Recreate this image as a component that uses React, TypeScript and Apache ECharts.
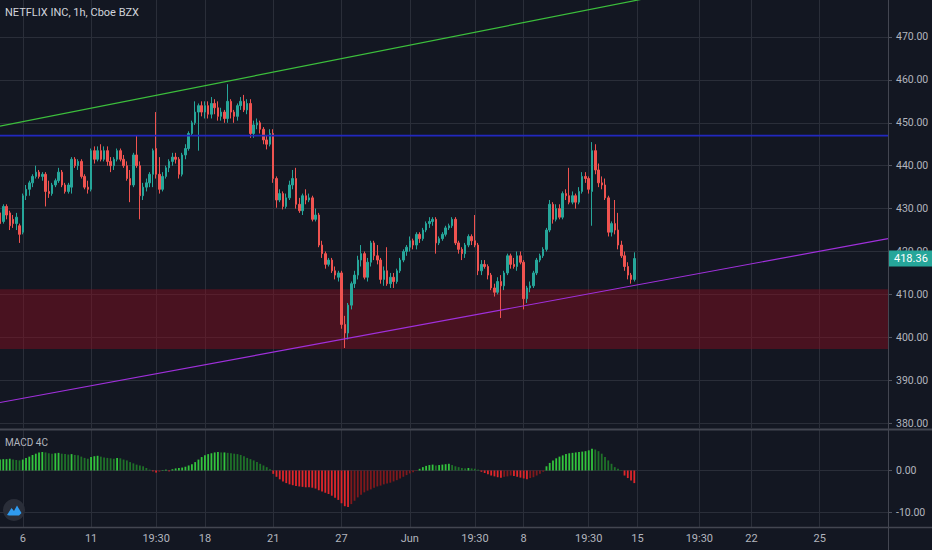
import React, { useEffect, useRef } from 'react';
import * as echarts from 'echarts';

// ---------- data ----------
const BAR_COUNT = 274; // hourly slots incl. empty future area
const timeLabelIdx = [7, 28, 48, 63, 84, 105, 126, 146, 161, 181, 196, 215, 231, 252];
const timeLabelText = ['6', '11', '19:30', '18', '21', '27', 'Jun', '19:30', '8', '19:30', '15', '19:30', '22', '25'];
const priceTicks = [380, 390, 400, 410, 420, 430, 440, 450, 460, 470];
const macdTicks = [0, -10];

// [open, close, low, high]
const ohlc: number[][] = [
  [429, 426.5, 421.5, 430], [427, 430.5, 426.5, 431], [430.5, 428.5, 427.5, 431], [429, 426, 425, 429.5],
  [427.5, 426.5, 425.5, 428.5], [426.5, 428, 425, 429], [426, 424, 422, 426.5],
  [424.5, 433, 424, 433.5], [433, 434.5, 432, 435.5], [434.5, 436, 433, 436.5], [436, 437.5, 435, 438],
  [437.5, 438.5, 437, 440], [438.5, 437.5, 437, 439], [437.5, 438, 436.5, 438.5],
  [438, 434, 430.5, 438.5], [434, 433.5, 432.5, 436.5], [433.5, 435.5, 433, 436], [435.5, 436.5, 435, 437],
  [436.5, 438.5, 436, 439.5], [438.5, 435.5, 435, 439], [435.5, 434, 433.5, 436],
  [434, 435.5, 433.5, 436], [435, 441.5, 433.5, 442], [441.5, 440, 439.5, 442], [440, 441, 439, 441.5],
  [441, 437.5, 437, 441.5], [437.5, 435, 434.5, 438], [435, 434.5, 433.5, 436.5],
  [434.5, 443.5, 434, 444], [443.5, 441.5, 440.5, 444.5], [441.5, 443.5, 441, 444.5], [443.5, 441.5, 441, 445],
  [441.5, 443.5, 441, 444.5], [443.5, 441, 440, 444.5], [441, 440, 438.5, 442],
  [440, 441.5, 439, 442], [441.5, 443.5, 441, 444], [443.5, 441.5, 441, 444], [441.5, 440, 439.5, 442.5],
  [440, 437, 436.5, 441], [437, 435.5, 431.5, 439], [435.5, 442.5, 435, 443],
  [442.5, 440, 439.5, 447], [440, 433, 427.5, 441], [433, 435, 432, 436], [435, 436, 434, 437],
  [436, 438, 435, 438.5], [438, 443.5, 435, 444], [444, 438, 437, 452.5],
  [438, 434.5, 433.5, 442], [434.5, 437.5, 434, 438.5], [437.5, 439.5, 437, 440], [439.5, 441, 438.5, 441.5],
  [441, 442, 440, 443], [442, 441.5, 440.5, 443], [441.5, 438, 437, 442],
  [438, 442.5, 437.5, 443], [442.5, 444, 441.5, 445], [444, 447.5, 443.5, 448], [447.5, 450, 447, 450.5],
  [450, 452.5, 449.5, 455], [452.5, 454, 443.5, 454.5], [454, 452.5, 451.5, 455],
  [452.5, 454, 451, 455], [454, 452, 451, 455], [452, 454.5, 451, 456], [454.5, 453.5, 452, 455.5],
  [453.5, 451.5, 450.5, 455], [451.5, 452.5, 450.5, 453.5], [452.5, 451, 450, 453],
  [451, 455, 450, 459], [455, 452.5, 451, 455.5], [452.5, 451.5, 450, 453], [451.5, 454, 450.5, 454.5],
  [454, 455, 453, 456], [455, 453, 452.5, 456.5], [453, 454.5, 452, 455.5],
  [454.5, 447.5, 446.5, 455.5], [447.5, 449.5, 446.5, 450.5], [449.5, 450, 448.5, 451], [450, 448.5, 447.5, 450.5],
  [448.5, 446, 445, 449], [446, 445, 443.8, 447], [445, 447.5, 444.5, 448.5],
  [447.5, 437, 436, 448.5], [437, 432, 430.2, 437.5], [432, 433.5, 431.5, 434.5], [433.5, 430.5, 429.8, 434],
  [430.5, 432.5, 430, 433.5], [432.5, 435.5, 432, 436.5], [435.5, 437, 434.5, 439],
  [437, 431, 430, 439.5], [431, 429.5, 429, 432.5], [429.5, 433, 428.5, 433.5], [433, 432, 431, 434.5],
  [432, 432.5, 431.5, 433.5], [432.5, 427.5, 427, 433], [427.5, 428.5, 427, 430],
  [428.5, 421.5, 421, 429], [421.5, 419.5, 418.5, 422.5], [419.5, 417, 416, 420], [417, 418, 416.5, 418.5],
  [418, 415.5, 415, 418.5], [415.5, 414.5, 413.5, 416.5], [414, 415, 413, 415.5],
  [415, 403, 402, 415.5], [403, 401, 397.5, 405], [401, 407.5, 399.5, 408], [407.5, 412.5, 406.5, 413],
  [412.5, 414.5, 411.5, 415.5], [414.5, 418, 413.5, 419], [418, 419.5, 416.5, 421.5],
  [419.5, 414, 413.5, 420], [414, 417.5, 413, 418.5], [417.5, 422, 416.5, 422.5], [422, 419, 418, 422.5],
  [419, 418, 417, 421.5], [418, 413.5, 412.5, 418.5], [413.5, 415.5, 412, 416.5],
  [415.5, 412.5, 412, 421], [412.5, 414, 411.5, 415], [414, 413, 411.5, 415], [413, 415.5, 412.5, 416],
  [415.5, 418, 415, 418.5], [418, 420, 417.5, 420.5], [420, 421, 419, 421.5],
  [421, 422.5, 420, 423.5], [422.5, 421.5, 420.5, 423], [421.5, 424, 420.5, 424.5], [424, 423, 422, 424.5],
  [423, 425, 422.5, 425.5], [425, 426.5, 424.5, 427], [426.5, 427, 425.5, 428],
  [427, 427.5, 426, 428], [427.5, 422, 419.5, 428], [422, 423, 421.5, 423.5], [423, 424, 422.5, 424.5],
  [424, 425.5, 423.5, 426], [425.5, 426, 425, 426.5], [426, 427.5, 425.5, 428],
  [427.5, 422, 421.5, 428], [422, 420.5, 419.5, 422.5], [420.5, 419.5, 418, 421], [419.5, 421.5, 418.5, 422],
  [421.5, 423.5, 421, 424], [423.5, 422.5, 421.5, 424], [422.5, 421.5, 421, 428.5],
  [421.5, 415.5, 414.5, 422], [415.5, 417, 414.5, 418], [417, 416.5, 416, 418], [416.5, 414.5, 413.5, 417],
  [414.5, 411.5, 411, 415], [411.5, 410.5, 409.5, 412.5], [410.5, 413, 410, 414],
  [413, 412, 404.5, 414.5], [412, 415, 411, 415.5], [415, 419, 414.5, 419.5], [419, 417, 416, 419.5],
  [417, 416.5, 416, 418.5], [416.5, 419, 415.5, 420], [419, 417.5, 417, 420],
  [417.5, 409, 406.5, 418], [409, 411.5, 408, 412], [411.5, 412, 410.5, 413], [412, 415, 411.5, 415.5],
  [415, 418, 414.5, 418.5], [418, 419, 417.5, 419.5], [419, 420.5, 418.5, 421],
  [420.5, 425, 420, 425.5], [425, 431, 424.5, 432], [431, 427.5, 426.5, 431.5], [427.5, 430, 427, 431],
  [430, 428, 427.5, 431], [428, 433.5, 427.5, 434], [433.5, 433, 432, 434.5],
  [433, 431.5, 431, 439.5], [431.5, 433, 431, 434], [433, 431.5, 430, 433.5], [431.5, 434, 431, 435],
  [434, 437.5, 433.5, 438.5], [437.5, 437, 436, 438.5], [437, 434.5, 433.5, 437.5],
  [434, 443.5, 426, 445.5], [443.5, 439, 438, 445], [439, 436, 435, 440.5], [436, 435.5, 434.5, 437.5],
  [435.5, 432.5, 432, 437], [432.5, 424.5, 423.5, 433], [424.5, 426.5, 423.5, 427],
  [426.5, 425, 424, 432], [425, 421.5, 420.5, 429], [421.5, 419, 418.5, 422.5], [419, 416.5, 415.5, 420],
  [416.5, 414.5, 413.5, 417.5], [414.5, 413.5, 412.5, 415], [413.5, 418.36, 413, 419.8],
];

const macdHist: number[] = [
  2.6, 2.7, 2.7, 2.8, 2.6, 2.5, 2.4,
  2.6, 3.0, 3.3, 3.7, 4.0, 4.3, 4.4,
  4.3, 4.1, 4.0, 4.1, 4.2, 4.0, 3.9,
  3.8, 3.9, 3.7, 3.6, 3.3, 3.0, 2.8,
  3.2, 3.4, 3.5, 3.3, 3.1, 3.0, 2.9,
  2.8, 3.0, 2.9, 2.6, 2.4, 2.0, 1.7,
  1.4, 1.2, 1.0, 0.6, 0.2, -0.2, -0.5,
  -0.3, 0.1, 0.2, -0.2, 0.3, 0.5, 0.6,
  0.7, 0.9, 1.2, 1.5, 2.0, 2.6, 3.2,
  3.6, 3.9, 4.1, 4.3, 4.4, 4.3, 4.3,
  4.2, 4.1, 4.0, 3.9, 3.7, 3.4, 3.0,
  2.7, 2.4, 2.0, 1.6, 1.2, 0.8, 0.3,
  -0.8, -1.5, -2.1, -2.6, -3.0, -3.3, -3.5,
  -3.7, -3.8, -3.9, -4.0, -4.0, -4.1, -4.3,
  -4.7, -5.0, -5.3, -5.6, -6.0, -6.5, -7.0,
  -7.8, -8.5, -8.7, -8.0, -7.2, -6.4, -5.8,
  -5.2, -4.8, -4.5, -4.1, -3.8, -3.6, -3.3,
  -3.1, -2.9, -2.6, -2.3, -1.9, -1.5, -1.1,
  -0.7, -0.4, -0.1, 0.4, 0.8, 1.1, 1.3,
  1.4, 1.2, 1.3, 1.4, 1.5, 1.6, 1.3,
  1.0, 0.8, 0.6, 0.5, 0.6, 0.5, 0.4,
  0.2, -0.3, -0.6, -0.9, -1.2, -1.4, -1.6,
  -1.7, -1.5, -1.4, -1.2, -1.3, -1.5, -1.7,
  -1.9, -2.1, -1.8, -1.6, -1.2, -0.8, -0.3,
  1.0, 1.8, 2.4, 2.9, 3.3, 3.6, 3.9,
  4.1, 4.2, 4.3, 4.4, 4.5, 4.6, 4.8,
  5.2, 5.0, 4.6, 4.0, 3.2, 2.4, 1.6,
  0.8, 0.4, 0.1, -1.2, -1.8, -2.4, -3.0,
];

const greenLine = [[0, 449.2], [200, 479.2]];
const purpleLine = [[0, 384.8], [273, 423.0]];
const blueLine = [[0, 447.0], [273, 447.0]];
const zoneBounds = [397.3, 411.2];
const lastPrice = 418.36;

// ---------- styles ----------
const BG = '#131722';
const GRID = '#2a2e39';
const TXT = '#b2b5be';
const UP = '#26a69a';
const DOWN = '#ef5350';

export default function App() {
  const ref = useRef<HTMLDivElement>(null);

  useEffect(() => {
    if (!ref.current) return;
    const chart = echarts.init(ref.current, undefined, { renderer: 'svg' });

    const cats = Array.from({ length: BAR_COUNT }, (_, i) => String(i));
    const labelMap: Record<string, string> = {};
    timeLabelIdx.forEach((idx, k) => { labelMap[String(idx)] = timeLabelText[k]; });
    const isLabel = (index: number) => labelMap[String(index)] !== undefined;

    const macdData = macdHist.map((v, i) => {
      const prev = i > 0 ? macdHist[i - 1] : v;
      let color;
      if (v >= 0) color = v >= prev ? '#33c43d' : '#1f7229';
      else color = v <= prev ? '#e0262b' : '#80181c';
      return { value: v, itemStyle: { color } };
    });

    const option: any = {
      animation: false,
      backgroundColor: BG,
      textStyle: { fontFamily: 'Roboto, "Noto Sans", sans-serif' },
      grid: [
        { left: -1, right: 44, top: 0, height: 428 },
        { left: -1, right: 44, top: 430, height: 97 },
      ],
      xAxis: [
        {
          type: 'category', gridIndex: 0, data: cats, boundaryGap: false,
          axisLine: { show: false }, axisTick: { show: false }, axisLabel: { show: false },
          splitLine: { show: true, interval: isLabel, lineStyle: { color: GRID, width: 1 } },
        },
        {
          type: 'category', gridIndex: 1, data: cats, boundaryGap: false,
          axisLine: { show: false }, axisTick: { show: false },
          axisLabel: {
            show: true, interval: isLabel, color: TXT, fontSize: 11, margin: 6,
            formatter: (v: string) => labelMap[v] || '',
          },
          splitLine: { show: true, interval: isLabel, lineStyle: { color: GRID, width: 1 } },
        },
      ],
      yAxis: [
        {
          type: 'value', gridIndex: 0, position: 'right', min: 378.86, max: 478.62, scale: true,
          axisLine: { show: false },
          axisTick: { show: true, customValues: priceTicks, length: 4, lineStyle: { color: '#50535e' } },
          axisLabel: { customValues: priceTicks, color: TXT, fontSize: 10.5, margin: 8, formatter: (v: number) => v.toFixed(2) },
          splitLine: { show: true, lineStyle: { color: GRID, width: 1 } },
        },
        {
          type: 'value', gridIndex: 1, position: 'right', min: -13.45, max: 9.64,
          axisLine: { show: false },
          axisTick: { show: true, customValues: macdTicks, length: 4, lineStyle: { color: '#50535e' } },
          axisLabel: { customValues: macdTicks, color: TXT, fontSize: 10.5, margin: 8, formatter: (v: number) => v.toFixed(2) },
          splitLine: { show: true, lineStyle: { color: GRID, width: 1 } },
        },
      ],
      series: [
        {
          type: 'candlestick', xAxisIndex: 0, yAxisIndex: 0, data: ohlc, barWidth: 2, z: 3,
          itemStyle: { color: UP, color0: DOWN, borderColor: UP, borderColor0: DOWN, borderWidth: 1 },
          markArea: {
            silent: true, z: 1,
            itemStyle: { color: 'rgba(140,14,30,0.45)' },
            data: [[{ yAxis: zoneBounds[1] }, { yAxis: zoneBounds[0] }]],
          },
        },
        {
          type: 'line', xAxisIndex: 0, yAxisIndex: 0, data: greenLine, showSymbol: false, z: 5,
          lineStyle: { color: '#3cbf3c', width: 1.2 }, silent: true,
        },
        {
          type: 'line', xAxisIndex: 0, yAxisIndex: 0, data: blueLine, showSymbol: false, z: 5,
          lineStyle: { color: '#2228c0', width: 1.8 }, silent: true,
        },
        {
          type: 'line', xAxisIndex: 0, yAxisIndex: 0, data: purpleLine, showSymbol: false, z: 5,
          lineStyle: { color: '#a030dc', width: 1.2 }, silent: true,
          markLine: {
            silent: true, symbol: ['none', 'none'], z: 20,
            lineStyle: { color: 'rgba(0,0,0,0)', width: 1, type: 'solid' },
            label: {
              show: true, position: 'end', distance: 1,
              formatter: () => lastPrice.toFixed(2),
              backgroundColor: UP, color: '#ffffff', fontSize: 11, padding: [3, 5, 2, 5],
            },
            data: [{ yAxis: lastPrice }],
          },
        },
        {
          type: 'bar', xAxisIndex: 1, yAxisIndex: 1, data: macdData, barWidth: 1.8, z: 3, silent: true,
        },
      ],
      graphic: [
        { type: 'line', shape: { x1: 0, y1: 429.5, x2: 932, y2: 429.5 }, style: { stroke: '#434651', lineWidth: 2 }, z: 10 },
        { type: 'line', shape: { x1: 0, y1: 527.5, x2: 932, y2: 527.5 }, style: { stroke: '#434651', lineWidth: 1.5 }, z: 10 },
        { type: 'line', shape: { x1: 888.5, y1: 0, x2: 888.5, y2: 550 }, style: { stroke: '#434651', lineWidth: 1 }, z: 10 },
        {
          type: 'text', left: 5, top: 7, z: 10,
          style: { text: 'NETFLIX INC, 1h, Cboe BZX', fill: '#d1d4dc', font: '11px Roboto, sans-serif' },
        },
        {
          type: 'text', left: 5, top: 437, z: 10,
          style: { text: 'MACD 4C', fill: TXT, font: '10px Roboto, sans-serif' },
        },
        { type: 'circle', shape: { cx: 14, cy: 510, r: 11 }, style: { fill: '#2a2e39' }, z: 10 },
        {
          type: 'polygon', z: 11,
          shape: { points: [[7, 515], [11.5, 508], [14, 511], [17, 505.5], [21.5, 513], [19, 515.5], [9, 515.5]] },
          style: { fill: '#2f9bf0' },
        },
      ],
    };

    chart.setOption(option);
    return () => chart.dispose();
  }, []);

  return (
    <div
      ref={ref}
      style={{ position: 'fixed', left: 0, top: 0, width: 932, height: 550, background: BG }}
    />
  );
}
